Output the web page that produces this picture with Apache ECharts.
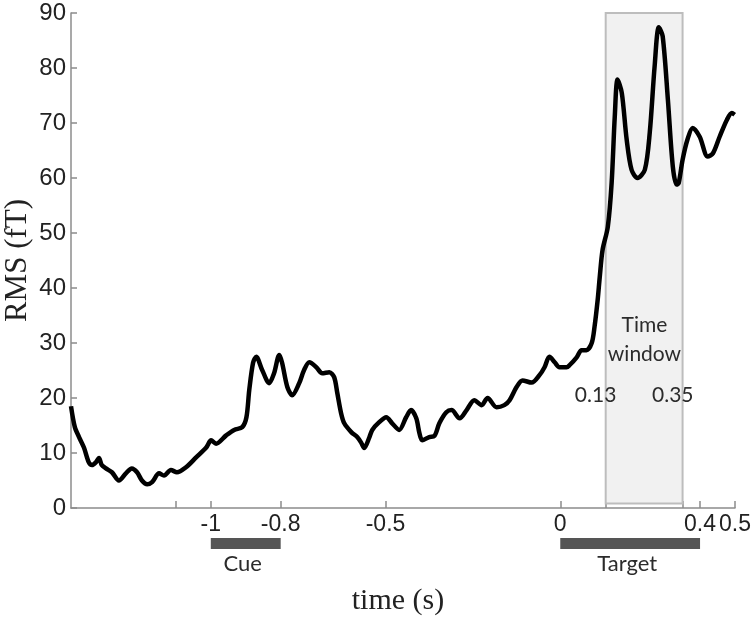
<!DOCTYPE html>
<html>
<head>
<meta charset="utf-8">
<title>RMS time course</title>
<script src="https://cdn.jsdelivr.net/npm/echarts@6/dist/echarts.min.js"></script>
<style>
    html, body { margin: 0; padding: 0; background: #fff; }
    #chart { width: 756px; height: 619px; }
</style>
</head>
<body>
<div id="chart"></div>
<script>
// time (s) of each traced point
const times = [
    -1.4, -1.389, -1.377, -1.363, -1.349, -1.34, -1.329, -1.32, -1.312, -1.3,
    -1.283, -1.263, -1.243, -1.226, -1.211, -1.197, -1.182, -1.168, -1.148, -1.134,
    -1.114, -1.097, -1.071, -1.042, -1.013, -0.999, -0.985, -0.956, -0.933, -0.91,
    -0.898, -0.89, -0.879, -0.87, -0.853, -0.833, -0.819, -0.804, -0.796, -0.781,
    -0.767, -0.747, -0.733, -0.718, -0.698, -0.681, -0.661, -0.647, -0.638, -0.627,
    -0.618, -0.598, -0.581, -0.569, -0.561, -0.546, -0.538, -0.518, -0.498, -0.481,
    -0.461, -0.441, -0.427, -0.412, -0.403, -0.395, -0.375, -0.36, -0.346, -0.326,
    -0.311, -0.288, -0.268, -0.246, -0.225, -0.208, -0.182, -0.16, -0.145, -0.125,
    -0.108, -0.082, -0.059, -0.045, -0.031, -0.016, -0.002, 0.018, 0.027, 0.047,
    0.061, 0.075, 0.09, 0.098, 0.107, 0.113, 0.121, 0.136, 0.147, 0.156,
    0.164, 0.176, 0.19, 0.204, 0.221, 0.242, 0.256, 0.27, 0.282, 0.293,
    0.308, 0.322, 0.333, 0.339, 0.35, 0.364, 0.379, 0.399, 0.422, 0.437,
    0.456, 0.477, 0.491, 0.499
];
// RMS (fT)
const rms = [
    18.5, 14.7, 12.9, 11.0, 8.3, 7.8, 8.3, 9.1, 7.8, 7.2,
    6.5, 5.0, 6.3, 7.2, 6.5, 5.0, 4.3, 4.7, 6.3, 5.9,
    6.9, 6.5, 7.4, 9.2, 11.0, 12.3, 11.7, 13.2, 14.2, 14.7,
    16.5, 21.4, 26.4, 27.5, 25.1, 22.7, 24.5, 27.8, 26.4, 22.0,
    20.5, 22.7, 25.1, 26.5, 25.6, 24.5, 24.7, 23.8, 20.9, 17.2,
    15.4, 13.8, 12.9, 11.8, 10.9, 12.9, 14.2, 15.6, 16.5, 15.4,
    14.2, 16.5, 17.8, 16.3, 13.6, 12.3, 12.9, 13.1, 15.4, 17.4,
    17.8, 16.3, 17.8, 19.6, 18.7, 20.0, 18.3, 18.7, 19.6, 22.0,
    23.2, 22.8, 24.2, 25.6, 27.5, 26.5, 25.6, 25.6, 26.0, 27.4,
    28.7, 28.7, 30.0, 32.9, 37.8, 42.0, 46.9, 51.1, 59.1, 71.2,
    77.9, 75.5, 67.0, 61.5, 60.0, 61.5, 68.2, 80.3, 87.4, 85.8,
    74.2, 62.1, 58.8, 59.1, 63.3, 67.0, 69.1, 67.5, 63.9, 64.5,
    67.5, 70.6, 71.8, 71.5
];

const xTicks = [-1.1, -1, -0.8, -0.5, 0, 0.13, 0.35, 0.4, 0.5];
const xTickLabels = [-1, -0.8, -0.5, 0, 0.4, 0.5];
const timeWindow = [0.13, 0.35];
// stimulus bars under the axis: [start, end, name]
const stimuli = [[-1, -0.8, 'Cue'], [0, 0.4, 'Target']];
// text notes inside the plot: [time, value, text]
const notes = [
    [0.241, 33.2, 'Time'],
    [0.241, 28.0, 'window'],
    [0.101, 20.5, '0.13'],
    [0.322, 20.5, '0.35']
];

const calibriLike = 'Lato, "Open Sans", sans-serif';

var chart = echarts.init(document.getElementById('chart'));

let option = {
    animation: false,
    grid: { left: 71, right: 21, top: 13, bottom: 111, containLabel: false, outerBoundsMode: 'none' },
    xAxis: {
        type: 'value',
        min: -1.4,
        max: 0.5,
        name: 'time (s)',
        nameLocation: 'middle',
        nameGap: 78,
        nameMoveOverlap: false,
        nameTextStyle: { fontFamily: '"Liberation Serif", "DejaVu Serif", serif', fontSize: 30, color: '#222', padding: [0, 10, 0, 0] },
        axisLine: { onZero: false, lineStyle: { color: '#8c8c8c', width: 1.5 } },
        axisTick: { inside: true, length: 7, customValues: xTicks, lineStyle: { color: '#8c8c8c', width: 1.5 } },
        axisLabel: {
            customValues: xTickLabels,
            margin: 5,
            fontFamily: '"Liberation Sans", Arial, sans-serif',
            fontSize: 23,
            color: '#222',
            formatter: (v) => String(v)
        },
        splitLine: { show: false }
    },
    yAxis: {
        type: 'value',
        min: 0,
        max: 90,
        interval: 10,
        name: 'RMS (fT)',
        nameLocation: 'middle',
        nameGap: 38,
        nameMoveOverlap: false,
        nameTextStyle: { fontFamily: '"Liberation Serif", "DejaVu Serif", serif', fontSize: 31, color: '#222' },
        axisLine: { show: true, onZero: false, lineStyle: { color: '#8c8c8c', width: 1.5 } },
        axisTick: { show: true, inside: true, length: 6, lineStyle: { color: '#8c8c8c', width: 1.5 } },
        axisLabel: {
            margin: 5,
            fontFamily: '"Liberation Sans", Arial, sans-serif',
            fontSize: 24,
            color: '#222'
        },
        splitLine: { show: false }
    },
    series: [
        {
            name: 'RMS',
            type: 'line',
            data: times.map((t, i) => [t, rms[i]]),
            showSymbol: false,
            smooth: 0.3,
            z: 5,
            lineStyle: { color: '#000', width: 4.5 },
            markArea: {
                silent: true,
                z: 1,
                itemStyle: { color: '#f1f1f1', borderColor: '#bdbdbd', borderWidth: 2 },
                data: [[{ xAxis: timeWindow[0], yAxis: 0.8 }, { xAxis: timeWindow[1], yAxis: 90.2 }]]
            }
        },
        {
            name: 'stimuli',
            type: 'custom',
            clip: false,
            silent: true,
            data: stimuli,
            encode: { x: [0, 1] },
            renderItem: (params, api) => {
                let p0 = api.coord([api.value(0), 0]);
                let p1 = api.coord([api.value(1), 0]);
                let label = stimuli[params.dataIndex][2];
                return {
                    type: 'group',
                    children: [
                        {
                            type: 'rect',
                            shape: { x: p0[0], y: p0[1] + 30, width: p1[0] - p0[0], height: 11 },
                            style: { fill: '#555' }
                        },
                        {
                            type: 'text',
                            style: {
                                x: (p0[0] + p1[0]) / 2 - 3,
                                y: p0[1] + 56,
                                text: label,
                                fill: '#2b2b2b',
                                font: '22px ' + calibriLike,
                                align: 'center',
                                verticalAlign: 'middle'
                            }
                        }
                    ]
                };
            }
        },
        {
            name: 'notes',
            type: 'custom',
            silent: true,
            z: 6,
            data: notes,
            encode: { x: 0, y: 1 },
            renderItem: (params, api) => {
                let p = api.coord([api.value(0), api.value(1)]);
                return {
                    type: 'text',
                    style: {
                        x: p[0],
                        y: p[1],
                        text: notes[params.dataIndex][2],
                        fill: '#2b2b2b',
                        font: '21px ' + calibriLike,
                        align: 'center',
                        verticalAlign: 'middle'
                    }
                };
            }
        }
    ]
};

chart.setOption(option);
</script>
</body>
</html>
